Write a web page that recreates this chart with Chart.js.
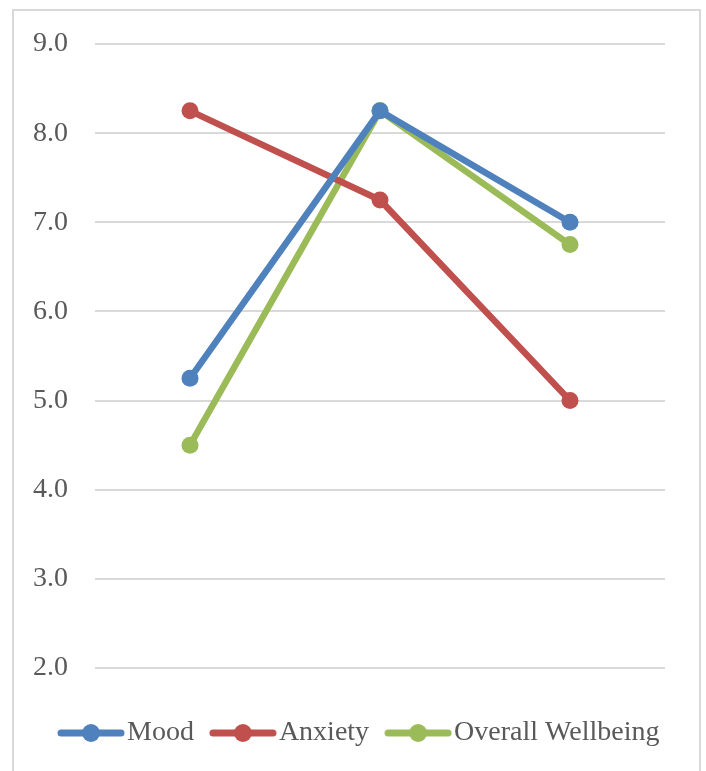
<!DOCTYPE html>
<html>
<head>
<meta charset="utf-8">
<script src="https://cdn.jsdelivr.net/npm/chart.js@4"></script>
<style>
  html, body { margin: 0; padding: 0; background: #fff; }
  #wrap { width: 706px; height: 771px; }
</style>
</head>
<body>
<div id="wrap"><canvas id="chart"></canvas></div>
<script>
// ---- data ----
var categories = ['T1', 'T2', 'T3'];
var seriesNames = ['Mood', 'Anxiety', 'Overall Wellbeing'];
var moodValues = [5.25, 8.25, 7.0];
var anxietyValues = [8.25, 7.25, 5.0];
var wellbeingValues = [4.5, 8.25, 6.75];
var yTicks = [2, 3, 4, 5, 6, 7, 8, 9];

var colours = ['#4F81BD', '#C0504D', '#9BBB59'];
var FONT = '"Liberation Serif", "Times New Roman", serif';

// legend sample: line with a dot in the middle
function legendMark(colour) {
    var c = document.createElement('canvas');
    c.width = 68;
    c.height = 20;
    var g = c.getContext('2d');
    g.strokeStyle = colour;
    g.lineWidth = 7;
    g.lineCap = 'round';
    g.beginPath();
    g.moveTo(4, 10);
    g.lineTo(64, 10);
    g.stroke();
    g.fillStyle = colour;
    g.beginPath();
    g.arc(34, 10, 9, 0, Math.PI * 2);
    g.fill();
    return c;
}

// grey frame round the whole picture
var framePlugin = {
    id: 'frame',
    beforeDraw: function (chart) {
        var ctx = chart.ctx;
        ctx.save();
        ctx.strokeStyle = '#d9d9d9';
        ctx.lineWidth = 2;
        ctx.strokeRect(13, 10, 687, 780);
        ctx.restore();
    }
};

// move the legend row right so it sits under the plot like the original
var legendShift = {
    id: 'legendShift',
    afterLayout: function (chart) {
        if (chart.legend) {
            chart.legend.left += 42;
            chart.legend.right += 42;
        }
    }
};

function makeSet(i, values) {
    return {
        label: seriesNames[i],
        data: values,
        borderColor: colours[i],
        backgroundColor: colours[i],
        borderWidth: 6.5,
        pointRadius: 8.5,
        pointHoverRadius: 8.5,
        pointBorderWidth: 0,
        tension: 0
    };
}

new Chart(document.getElementById('chart'), {
    type: 'line',
    data: {
        labels: categories,
        datasets: [
            makeSet(0, moodValues),
            makeSet(1, anxietyValues),
            makeSet(2, wellbeingValues)
        ]
    },
    options: {
        responsive: true,
        maintainAspectRatio: false,
        animation: false,
        events: [],
        layout: { padding: { left: 0, right: 41, top: 44, bottom: 14 } },
        scales: {
            x: {
                offset: true,
                grid: { display: false },
                border: { display: false },
                ticks: { display: false },
                afterFit: function (scale) { scale.height = 24; }
            },
            y: {
                min: 2,
                max: 9,
                afterBuildTicks: function (scale) {
                    scale.ticks = yTicks.map(function (v) { return { value: v }; });
                },
                afterFit: function (scale) { scale.width = 95; },
                grid: { color: '#d9d9d9', lineWidth: 2, drawTicks: false },
                border: { display: false },
                ticks: {
                    padding: 27,
                    color: '#595959',
                    font: { family: FONT, size: 28 },
                    callback: function (v) { return Number(v).toFixed(1); }
                }
            }
        },
        plugins: {
            tooltip: { enabled: false },
            legend: {
                position: 'bottom',
                align: 'start',
                labels: {
                    usePointStyle: true,
                    pointStyleWidth: 44,
                    padding: 27,
                    color: '#595959',
                    font: { family: FONT, size: 28 },
                    generateLabels: function (chart) {
                        return chart.data.datasets.map(function (ds, i) {
                            return {
                                text: ds.label,
                                fillStyle: colours[i],
                                strokeStyle: colours[i],
                                lineWidth: 0,
                                pointStyle: legendMark(colours[i]),
                                fontColor: '#595959',
                                datasetIndex: i
                            };
                        });
                    }
                }
            }
        }
    },
    plugins: [framePlugin, legendShift]
});
</script>
</body>
</html>
